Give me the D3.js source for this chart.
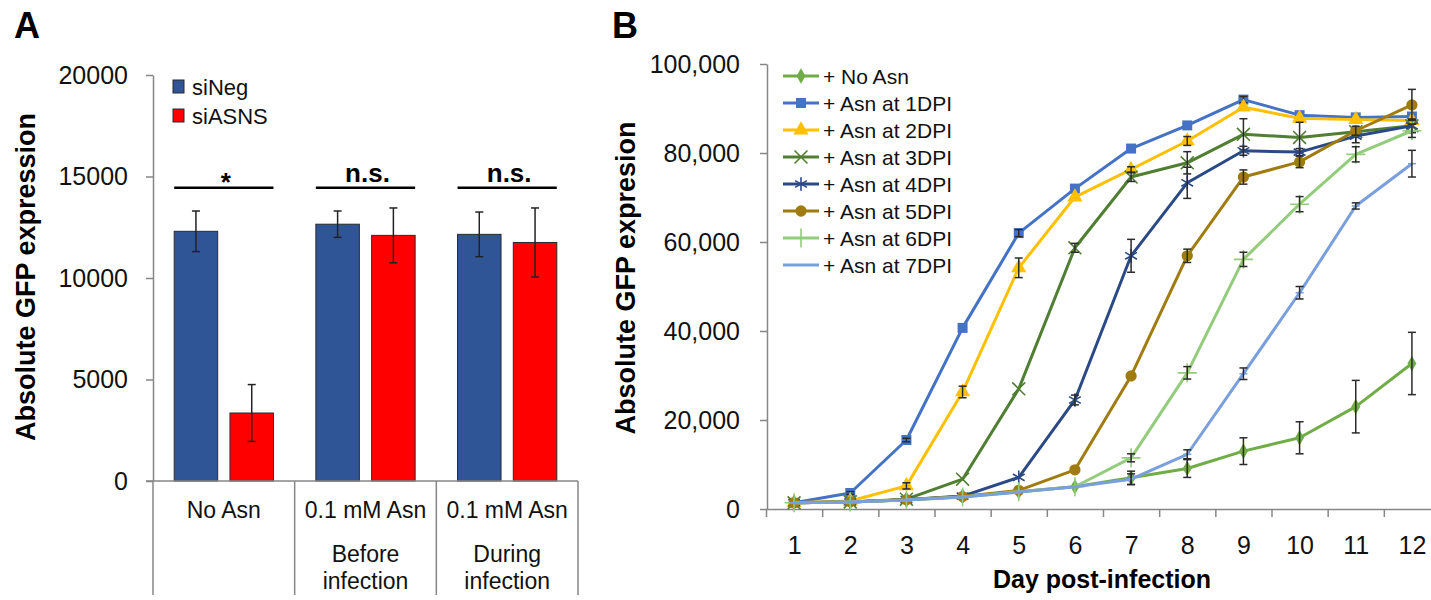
<!DOCTYPE html>
<html>
<head>
<meta charset="utf-8">
<script src="https://cdn.jsdelivr.net/npm/d3@7"></script>
<style>
  body { margin: 0; background: #fff; }
  svg { display: block; font-family: Arial, "Liberation Sans", sans-serif; }
</style>
</head>
<body>
<svg id="chart" width="1431" height="600"></svg>
<script>
// ---- Panel A data ----
const groups = ['noAsn', 'before', 'during'];
const groupLine1 = ['No Asn', '0.1 mM Asn', '0.1 mM Asn'];
const groupLine2 = ['', 'Before', 'During'];
const groupLine3 = ['', 'infection', 'infection'];
const barSeries = ['siNeg', 'siASNS'];
const siNegValues = [12300, 12650, 12150];
const siNegErrors = [1000, 650, 1100];
const siASNSValues = [3350, 12100, 11750];
const siASNSErrors = [1400, 1350, 1700];
const sigLabels = ['*', 'n.s.', 'n.s.'];
const sigLevel = 14450;
const yTicksA = [0, 5000, 10000, 15000, 20000];

// ---- Panel B data ----
const days = [1, 2, 3, 4, 5, 6, 7, 8, 9, 10, 11, 12];
const yTicksB = [0, 20000, 40000, 60000, 80000, 100000];
const seriesNames = ['+ No Asn', '+ Asn at 1DPI', '+ Asn at 2DPI', '+ Asn at 3DPI',
                     '+ Asn at 4DPI', '+ Asn at 5DPI', '+ Asn at 6DPI', '+ Asn at 7DPI'];
const noAsn   = [1400, 1600, 2100, 2800, 3900, 5000, 7000, 9100, 13000, 16000, 23000, 32700];
const asn1dpi = [1400, 3600, 15500, 40700, 62000, 72000, 81000, 86200, 92000, 88500, 88000, 88200];
const asn2dpi = [1400, 1800, 5200, 26300, 54200, 70100, 76300, 82700, 90300, 87800, 87500, 87300];
const asn3dpi = [1400, 1600, 2200, 6700, 27000, 58700, 74600, 77800, 84200, 83500, 84800, 86100];
const asn4dpi = [1400, 1600, 2100, 2900, 7100, 24500, 56900, 73300, 80500, 80200, 83800, 86100];
const asn5dpi = [1400, 1600, 2100, 2800, 4200, 8800, 29900, 56900, 74600, 78000, 85000, 90800];
const asn6dpi = [1400, 1600, 2000, 2700, 3900, 5000, 11500, 30600, 56100, 68500, 79700, 85000];
const asn7dpi = [1400, 1600, 2000, 2700, 3800, 5000, 6700, 12300, 30400, 48600, 68100, 77600];
const noAsnErr   = [0, 0, 0, 0, 0, 0, 1500, 2000, 3000, 3600, 5900, 7000];
const asn1dpiErr = [300, 300, 400, 0, 800, 0, 0, 0, 700, 0, 0, 0];
const asn2dpiErr = [0, 0, 700, 1300, 2200, 0, 600, 1000, 0, 0, 0, 0];
const asn3dpiErr = [0, 0, 0, 0, 0, 1000, 1000, 2500, 3500, 3400, 0, 1500];
const asn4dpiErr = [0, 0, 0, 0, 0, 1100, 3700, 3500, 1000, 800, 1500, 1500];
const asn5dpiErr = [0, 0, 0, 0, 0, 0, 0, 1500, 1600, 1300, 1000, 3500];
const asn6dpiErr = [0, 0, 0, 0, 0, 0, 900, 1400, 1600, 1700, 1700, 1500];
const asn7dpiErr = [0, 0, 0, 0, 0, 0, 1200, 1000, 1300, 1400, 700, 3000];

const svg = d3.select('#chart');
const axisColor = '#868686';
const fontFam = 'Arial, "Liberation Sans", sans-serif';

// panel letters
svg.append('text').attr('x', 14).attr('y', 38).attr('font-size', 36).attr('font-weight', 'bold').text('A');
svg.append('text').attr('x', 612).attr('y', 38).attr('font-size', 36).attr('font-weight', 'bold').text('B');

// ================= Panel A =================
const yA = d3.scaleLinear().domain([0, 20000]).range([481, 75]);
const xA = d3.scaleBand().domain(groups).range([153, 578]);
const xA1 = d3.scaleBand().domain(barSeries).range([0, xA.bandwidth()])
    .paddingInner(0.22).paddingOuter(0.38);
const barColor = { siNeg: '#2F5597', siASNS: '#FF0000' };

const gA = svg.append('g');

const yAxisA = gA.append('g')
    .attr('transform', 'translate(153,0)')
    .call(d3.axisLeft(yA).tickValues(yTicksA).tickFormat(d3.format('d'))
        .tickSize(7).tickSizeOuter(0).tickPadding(18));
yAxisA.select('.domain').attr('stroke', axisColor).attr('stroke-width', 1.5);
yAxisA.selectAll('.tick line').attr('stroke', axisColor).attr('stroke-width', 1.5);
yAxisA.selectAll('text').attr('font-size', 25).attr('fill', '#111').attr('font-family', fontFam);

// bars
const barRows = groups.map((g, i) => ({
    group: g,
    items: [
        { key: 'siNeg', value: siNegValues[i], err: siNegErrors[i] },
        { key: 'siASNS', value: siASNSValues[i], err: siASNSErrors[i] }
    ]
}));

const groupG = gA.selectAll('.grp').data(barRows).join('g')
    .attr('transform', d => `translate(${xA(d.group)},0)`);

groupG.selectAll('rect').data(d => d.items).join('rect')
    .attr('x', d => xA1(d.key))
    .attr('y', d => yA(d.value))
    .attr('width', xA1.bandwidth())
    .attr('height', d => yA(0) - yA(d.value))
    .attr('fill', d => barColor[d.key])
    .attr('stroke', '#2a2a2a')
    .attr('stroke-width', 1);

// error bars
groupG.selectAll('.err').data(d => d.items).join('g').each(function (d) {
    const cx = xA1(d.key) + xA1.bandwidth() / 2;
    const g = d3.select(this);
    g.append('line').attr('x1', cx).attr('x2', cx)
        .attr('y1', yA(d.value + d.err)).attr('y2', yA(d.value - d.err));
    [d.value + d.err, d.value - d.err].forEach(v => {
        g.append('line').attr('x1', cx - 4).attr('x2', cx + 4).attr('y1', yA(v)).attr('y2', yA(v));
    });
    g.selectAll('line').attr('stroke', '#222').attr('stroke-width', 1.5);
});

// significance lines
groupG.append('line')
    .attr('x1', xA1('siNeg')).attr('x2', xA1('siASNS') + xA1.bandwidth())
    .attr('y1', yA(sigLevel)).attr('y2', yA(sigLevel))
    .attr('stroke', '#000').attr('stroke-width', 2.5);
groupG.append('text')
    .attr('x', xA.bandwidth() / 2 + 2)
    .attr('y', (d, i) => yA(sigLevel) - (sigLabels[i] === '*' ? -3 : 6))
    .attr('text-anchor', 'middle')
    .attr('font-size', (d, i) => sigLabels[i] === '*' ? 26 : 26)
    .attr('font-weight', 'bold')
    .text((d, i) => sigLabels[i]);

// x axis with category dividers
gA.append('line').attr('x1', 146).attr('x2', 578).attr('y1', yA(0)).attr('y2', yA(0))
    .attr('stroke', axisColor).attr('stroke-width', 1.5);
const dividers = groups.map(g => xA(g)).concat([xA(groups[groups.length - 1]) + xA.bandwidth()]);
gA.selectAll('.div').data(dividers).join('line')
    .attr('x1', d => d).attr('x2', d => d)
    .attr('y1', yA(0)).attr('y2', 595)
    .attr('stroke', axisColor).attr('stroke-width', 1.5);

const catText = gA.selectAll('.cat').data(groups).join('g')
    .attr('transform', d => `translate(${xA(d) + xA.bandwidth() / 2},0)`)
    .attr('font-size', 23).attr('text-anchor', 'middle').attr('fill', '#111');
catText.append('text').attr('y', 518).text((d, i) => groupLine1[i]);
catText.append('text').attr('y', 562).text((d, i) => groupLine2[i]);
catText.append('text').attr('y', 589).text((d, i) => groupLine3[i]);

// y title
svg.append('text')
    .attr('transform', 'translate(35,277) rotate(-90)')
    .attr('text-anchor', 'middle')
    .attr('font-size', 27).attr('font-weight', 'bold')
    .text('Absolute GFP expression');

// legend
const legA = gA.selectAll('.legA').data(barSeries).join('g')
    .attr('transform', (d, i) => `translate(173,${87 + i * 29})`);
legA.append('rect').attr('x', 0).attr('y', -7).attr('width', 11).attr('height', 13)
    .attr('fill', d => barColor[d]).attr('stroke', '#2a2a2a').attr('stroke-width', 1);
legA.append('text').attr('x', 19).attr('y', 0).attr('dy', '0.36em')
    .attr('font-size', 22).attr('fill', '#111').text(d => d);

// ================= Panel B =================
const xB = d3.scaleLinear().domain([0.5, 12.5]).range([766, 1440]);
const yB = d3.scaleLinear().domain([0, 100000]).range([509, 64]);
const gB = svg.append('g');

const yAxisB = gB.append('g')
    .attr('transform', 'translate(767,0)')
    .call(d3.axisLeft(yB).tickValues(yTicksB).tickFormat(d3.format(',')).tickSize(7).tickSizeOuter(0).tickPadding(20));
yAxisB.select('.domain').attr('stroke', axisColor).attr('stroke-width', 1.5);
yAxisB.selectAll('.tick line').attr('stroke', axisColor).attr('stroke-width', 1.5);
yAxisB.selectAll('text').attr('font-size', 25).attr('fill', '#111').attr('font-family', fontFam);

const xTickB = gB.append('g')
    .attr('transform', `translate(0,${yB(0)})`)
    .call(d3.axisBottom(xB).tickValues(d3.range(0.5, 13, 1)).tickFormat('').tickSize(8).tickSizeOuter(0));
xTickB.select('.domain').attr('stroke', axisColor).attr('stroke-width', 1.5);
xTickB.selectAll('.tick line').attr('stroke', axisColor).attr('stroke-width', 1.5);

const xLabB = gB.append('g')
    .attr('transform', `translate(0,${yB(0)})`)
    .call(d3.axisBottom(xB).tickValues(days).tickFormat(d3.format('d')).tickSize(0).tickPadding(27));
xLabB.select('.domain').remove();
xLabB.selectAll('text').attr('font-size', 25).attr('fill', '#111').attr('font-family', fontFam);

svg.append('text')
    .attr('x', 1102).attr('y', 588)
    .attr('text-anchor', 'middle')
    .attr('font-size', 25).attr('font-weight', 'bold')
    .text('Day post-infection');

svg.append('text')
    .attr('transform', 'translate(635,278) rotate(-90)')
    .attr('text-anchor', 'middle')
    .attr('font-size', 27).attr('font-weight', 'bold')
    .text('Absolute GFP expresion');

// markers
const symDash = {
    draw(ctx, size) {
        const w = Math.sqrt(size) / 2;
        ctx.moveTo(-w, 0);
        ctx.lineTo(w, 0);
    }
};
const markers = [
    { type: d3.symbolDiamond, size: 70, filled: true },
    { type: d3.symbolSquare, size: 100, filled: true },
    { type: d3.symbolTriangle, size: 100, filled: true },
    { type: d3.symbolTimes || d3.symbolCross, size: 110, filled: false },
    { type: d3.symbolAsterisk || d3.symbolCross, size: 130, filled: false },
    { type: d3.symbolCircle, size: 100, filled: true },
    { type: d3.symbolPlus || d3.symbolCross, size: 120, filled: false },
    { type: symDash, size: 64, filled: false }
];
const colors = ['#70AD47', '#4472C4', '#FFC000', '#507E32', '#2B4A85', '#A07C10', '#93CC7C', '#7A9FDD'];
const seriesValues = [noAsn, asn1dpi, asn2dpi, asn3dpi, asn4dpi, asn5dpi, asn6dpi, asn7dpi];
const seriesErrors = [noAsnErr, asn1dpiErr, asn2dpiErr, asn3dpiErr, asn4dpiErr, asn5dpiErr, asn6dpiErr, asn7dpiErr];

const line = d3.line().x(d => xB(d.day)).y(d => yB(d.value));

seriesNames.forEach((name, s) => {
    const pts = days.map((day, i) => ({ day, value: seriesValues[s][i], err: seriesErrors[s][i] }));
    const g = gB.append('g');
    g.append('path').datum(pts)
        .attr('d', line).attr('fill', 'none')
        .attr('stroke', colors[s]).attr('stroke-width', 3)
        .attr('stroke-linejoin', 'round');
    const m = markers[s];
    const sym = d3.symbol().type(m.type).size(m.size);
    g.selectAll('.mk').data(pts).join('path')
        .attr('transform', d => `translate(${xB(d.day)},${yB(d.value)})`)
        .attr('d', sym)
        .attr('fill', m.filled ? colors[s] : 'none')
        .attr('stroke', colors[s])
        .attr('stroke-width', m.filled ? 0 : 1.6);
    // error bars
    const eb = g.selectAll('.eb').data(pts.filter(d => d.err > 0)).join('g')
        .attr('stroke', '#2b2b2b').attr('stroke-width', 1.5);
    eb.append('line')
        .attr('x1', d => xB(d.day)).attr('x2', d => xB(d.day))
        .attr('y1', d => yB(d.value + d.err)).attr('y2', d => yB(d.value - d.err));
    eb.append('line')
        .attr('x1', d => xB(d.day) - 4).attr('x2', d => xB(d.day) + 4)
        .attr('y1', d => yB(d.value + d.err)).attr('y2', d => yB(d.value + d.err));
    eb.append('line')
        .attr('x1', d => xB(d.day) - 4).attr('x2', d => xB(d.day) + 4)
        .attr('y1', d => yB(d.value - d.err)).attr('y2', d => yB(d.value - d.err));
});

// legend B
const legB = gB.selectAll('.legB').data(seriesNames).join('g')
    .attr('transform', (d, i) => `translate(783,${76 + i * 27})`);
legB.append('line').attr('x1', 0).attr('x2', 36).attr('y1', 0).attr('y2', 0)
    .attr('stroke', (d, i) => colors[i]).attr('stroke-width', 3);
legB.append('path')
    .attr('transform', 'translate(18,0)')
    .attr('d', (d, i) => d3.symbol().type(markers[i].type).size(markers[i].size)())
    .attr('fill', (d, i) => markers[i].filled ? colors[i] : 'none')
    .attr('stroke', (d, i) => colors[i])
    .attr('stroke-width', (d, i) => markers[i].filled ? 0 : 1.6);
legB.append('text').attr('x', 40).attr('y', 0).attr('dy', '0.36em')
    .attr('font-size', 21).attr('fill', '#111').text(d => d);
</script>
</body>
</html>
